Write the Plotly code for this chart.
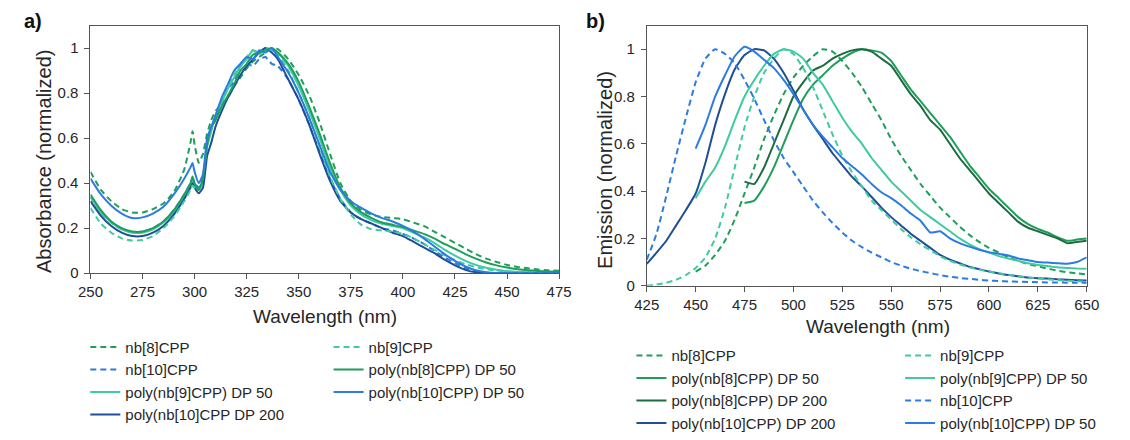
import plotly.graph_objects as go

W, H = 1130, 440

# ---------------- Panel a: absorbance ----------------
WL_ABS = [250, 255, 260, 265, 270, 275, 280, 285, 290, 295,
          298, 299, 300, 302, 304, 306, 308,
          310, 313, 316, 319, 322, 325, 328, 331, 334, 337,
          340, 345, 350, 355, 360, 365, 370, 375, 380, 385, 390, 395, 400, 405,
          410, 415, 420, 425, 430, 435, 440, 445, 450, 455, 460, 465, 470, 475]

ABS_NB8 = [0.45, 0.37, 0.32, 0.285, 0.27, 0.27, 0.285, 0.31, 0.36, 0.46,
           0.58, 0.63, 0.57, 0.49, 0.53, 0.62, 0.68,
           0.72, 0.75, 0.78, 0.83, 0.87, 0.91, 0.94, 0.96, 0.98, 1.0,
           0.995, 0.95, 0.88, 0.79, 0.67, 0.53, 0.40, 0.32, 0.28, 0.26, 0.25, 0.245, 0.24, 0.225,
           0.21, 0.185, 0.16, 0.135, 0.11, 0.085, 0.065, 0.05, 0.037, 0.028, 0.022, 0.017, 0.013, 0.011]
ABS_NB9 = [0.29, 0.22, 0.18, 0.155, 0.145, 0.148, 0.165, 0.2, 0.25, 0.32,
           0.37, 0.39, 0.38, 0.37, 0.43, 0.57, 0.64,
           0.7, 0.77, 0.83, 0.88, 0.93, 0.96, 0.99, 0.97, 1.0, 0.99,
           0.97, 0.9, 0.8, 0.69, 0.56, 0.43, 0.33, 0.26, 0.215, 0.195, 0.19, 0.185, 0.175, 0.155,
           0.13, 0.105, 0.08, 0.058, 0.04, 0.027, 0.018, 0.012, 0.008, 0.005, 0.004, 0.003, 0.002, 0.002]
ABS_NB10 = [0.34, 0.27, 0.225, 0.195, 0.182, 0.185, 0.2, 0.23, 0.28, 0.35,
            0.4, 0.42, 0.4, 0.38, 0.43, 0.57, 0.64,
            0.68, 0.76, 0.82, 0.85, 0.92, 0.93, 0.92, 0.95, 0.96, 0.93,
            0.92, 0.86, 0.77, 0.66, 0.54, 0.42, 0.33, 0.27, 0.24, 0.22, 0.2, 0.19, 0.175, 0.155,
            0.13, 0.1, 0.07, 0.045, 0.022, 0.008, 0.002, 0, 0, 0, 0, 0, 0, 0]
ABS_P8_50 = [0.35, 0.28, 0.23, 0.2, 0.185, 0.185, 0.2, 0.23, 0.28, 0.35,
             0.4, 0.43, 0.4, 0.37, 0.42, 0.57, 0.65,
             0.68, 0.74, 0.79, 0.84, 0.9, 0.93, 0.97, 0.98, 0.99, 1.0,
             0.98, 0.93, 0.85, 0.74, 0.62, 0.49, 0.38, 0.31, 0.27, 0.245, 0.225, 0.215, 0.205, 0.19,
             0.175, 0.155, 0.13, 0.108, 0.085, 0.065, 0.048, 0.035, 0.025, 0.018, 0.013, 0.01, 0.008, 0.007]
ABS_P9_50 = [0.34, 0.27, 0.225, 0.195, 0.18, 0.18, 0.195, 0.225, 0.27, 0.34,
             0.39, 0.41, 0.39, 0.37, 0.41, 0.56, 0.63,
             0.7, 0.76, 0.82, 0.87, 0.92, 0.95, 0.99, 0.98, 1.0, 0.99,
             0.98, 0.92, 0.83, 0.72, 0.6, 0.47, 0.37, 0.3, 0.26, 0.235, 0.22, 0.21, 0.2, 0.18,
             0.16, 0.135, 0.105, 0.078, 0.055, 0.037, 0.024, 0.015, 0.009, 0.006, 0.004, 0.003, 0.002, 0.002]
ABS_P10_50 = [0.42, 0.35, 0.3, 0.265, 0.245, 0.248, 0.265, 0.295, 0.35, 0.42,
              0.47, 0.49, 0.45, 0.40, 0.44, 0.6, 0.65,
              0.7, 0.78, 0.84, 0.9, 0.93, 0.96, 0.95, 0.99, 0.98, 1.0,
              0.96, 0.89, 0.8, 0.69, 0.57, 0.45, 0.37, 0.32, 0.29, 0.265, 0.245, 0.23, 0.21, 0.185,
              0.155, 0.12, 0.085, 0.055, 0.03, 0.013, 0.004, 0, 0, 0, 0, 0, 0, 0]
ABS_P10_200 = [0.32, 0.255, 0.21, 0.18, 0.165, 0.165, 0.18, 0.21, 0.26, 0.33,
               0.38, 0.40, 0.38, 0.355, 0.38, 0.52, 0.58,
               0.65, 0.72, 0.78, 0.83, 0.88, 0.92, 0.95, 0.98, 1.0, 0.98,
               0.95, 0.86, 0.77, 0.66, 0.53, 0.41, 0.32, 0.27, 0.24, 0.22, 0.2, 0.18, 0.165, 0.14,
               0.115, 0.09, 0.06, 0.035, 0.015, 0.004, 0, 0, 0, 0, 0, 0, 0, 0]

# ---------------- Panel b: emission ----------------
WL_EM = list(range(425, 651, 5))  # 425 ... 650

EM_NB8 = [0.06, 0.085, 0.13, 0.19, 0.28, 0.39, 0.5, 0.62, 0.72, 0.81,
          0.88, 0.93, 0.97, 1.0, 0.99, 0.95, 0.9, 0.84, 0.77, 0.7,
          0.62, 0.55, 0.49, 0.43, 0.38, 0.33, 0.29, 0.25, 0.215, 0.185,
          0.16, 0.14, 0.12, 0.105, 0.092, 0.082, 0.072, 0.064, 0.057, 0.052, 0.048]  # from 450
EM_NB9 = [0.0, 0.005, 0.012, 0.025, 0.045, 0.075, 0.12, 0.2, 0.33, 0.5,
          0.67, 0.8, 0.9, 0.96, 1.0, 0.98, 0.92, 0.84, 0.74, 0.64,
          0.55, 0.48, 0.42, 0.36, 0.32, 0.28, 0.24, 0.205, 0.175, 0.15,
          0.125, 0.105, 0.09, 0.078, 0.068, 0.06, 0.053, 0.046, 0.04, 0.035,
          0.031, 0.027, 0.024, 0.021, 0.019, 0.017]  # from 425
EM_NB10 = [0.11, 0.22, 0.38, 0.55, 0.71, 0.86, 0.96, 1.0, 0.98, 0.94,
           0.87, 0.79, 0.7, 0.615, 0.54, 0.48, 0.42, 0.36, 0.31, 0.265,
           0.225, 0.19, 0.163, 0.14, 0.12, 0.1, 0.085, 0.072, 0.062, 0.053,
           0.045, 0.038, 0.033, 0.029, 0.025, 0.022, 0.02, 0.018, 0.017, 0.016,
           0.015, 0.014, 0.014, 0.013, 0.013, 0.013]  # from 425
EM_P8_50 = [0.35, 0.36, 0.42, 0.5, 0.6, 0.7, 0.79, 0.85, 0.89, 0.93,
            0.96, 0.985, 1.0, 0.995, 0.985, 0.95, 0.89, 0.83, 0.78, 0.73,
            0.68, 0.63, 0.57, 0.51, 0.46, 0.41, 0.37, 0.33, 0.29, 0.26,
            0.24, 0.225, 0.205, 0.19, 0.195, 0.2]  # from 475
EM_P9_50 = [0.37, 0.44, 0.5, 0.59, 0.7, 0.8, 0.87, 0.93, 0.98, 1.0,
            0.99, 0.96, 0.9, 0.85, 0.78, 0.71, 0.65, 0.6, 0.54, 0.49,
            0.44, 0.4, 0.36, 0.32, 0.29, 0.26, 0.23, 0.2, 0.175, 0.155,
            0.14, 0.125, 0.115, 0.105, 0.095, 0.088, 0.083, 0.078, 0.075, 0.073, 0.072]  # from 450
EM_P8_200 = [0.44, 0.43, 0.5, 0.6, 0.7, 0.8, 0.86, 0.91, 0.93, 0.96,
             0.98, 0.995, 1.0, 0.99, 0.96, 0.93, 0.87, 0.81, 0.76, 0.7,
             0.66, 0.6, 0.54, 0.49, 0.44, 0.39, 0.35, 0.31, 0.27, 0.245,
             0.23, 0.215, 0.2, 0.18, 0.185, 0.19]  # from 475
EM_P10_200 = [0.092, 0.14, 0.19, 0.255, 0.32, 0.39, 0.52, 0.68, 0.81, 0.915,
              0.975, 1.0, 0.995, 0.96, 0.9, 0.825, 0.745, 0.68, 0.62, 0.56,
              0.51, 0.46, 0.42, 0.375, 0.33, 0.29, 0.255, 0.22, 0.19, 0.16,
              0.13, 0.11, 0.095, 0.08, 0.07, 0.06, 0.052, 0.045, 0.04, 0.035,
              0.032, 0.03, 0.027, 0.025, 0.023, 0.022]  # from 425
EM_P10_50 = [0.58, 0.68, 0.8, 0.89, 0.97, 1.01, 0.99, 0.955, 0.92, 0.87,
             0.81, 0.745, 0.68, 0.63, 0.585, 0.54, 0.505, 0.47, 0.43, 0.395,
             0.37, 0.34, 0.305, 0.275, 0.225, 0.23, 0.2, 0.18, 0.165, 0.152,
             0.142, 0.135, 0.128, 0.115, 0.108, 0.1, 0.098, 0.095, 0.093, 0.1, 0.12]  # from 450

Y_TICKS = [0, 0.2, 0.4, 0.6, 0.8, 1]
Y_TICK_TEXT = ["0", "0.2", "0.4", "0.6", "0.8", "1"]

# ---------------- styling ----------------
GREEN = "#1f9e5a"
TEAL = "#3fcaa0"
BLUE = "#2b7be0"
NAVY = "#1f4e96"
DKGREEN = "#1d6b41"
DASH = "6px,4px"
FONT = "Liberation Sans, Arial, sans-serif"
TXT = "#262626"


def px_x(p):
    return p / W


def px_y(p):
    return 1 - p / H


def tail(x, vals):
    return x[len(x) - len(vals):]


fig = go.Figure()


def add(x, y, name, color, dash, axis, legend):
    fig.add_trace(go.Scatter(
        x=tail(x, y), y=y, name=name, mode="lines",
        line=dict(color=color, width=2, dash=dash, shape="spline", smoothing=0.5),
        xaxis="x" if axis == 1 else "x2", yaxis="y" if axis == 1 else "y2",
        legend=legend, hoverinfo="skip"))


# panel a legend columns
add(WL_ABS, ABS_NB8, "nb[8]CPP", GREEN, DASH, 1, "legend")
add(WL_ABS, ABS_NB10, "nb[10]CPP", BLUE, DASH, 1, "legend")
add(WL_ABS, ABS_P9_50, "poly(nb[9]CPP) DP 50", TEAL, "solid", 1, "legend")
add(WL_ABS, ABS_P10_200, "poly(nb[10]CPP DP 200", NAVY, "solid", 1, "legend")
add(WL_ABS, ABS_NB9, "nb[9]CPP", TEAL, DASH, 1, "legend2")
add(WL_ABS, ABS_P8_50, "poly(nb[8]CPP) DP 50", GREEN, "solid", 1, "legend2")
add(WL_ABS, ABS_P10_50, "poly(nb[10]CPP) DP 50", BLUE, "solid", 1, "legend2")

# panel b legend columns
add(WL_EM, EM_NB8, "nb[8]CPP", GREEN, DASH, 2, "legend3")
add(WL_EM, EM_P8_50, "poly(nb[8]CPP) DP 50", GREEN, "solid", 2, "legend3")
add(WL_EM, EM_P8_200, "poly(nb[8]CPP) DP 200", DKGREEN, "solid", 2, "legend3")
add(WL_EM, EM_P10_200, "poly(nb[10]CPP) DP 200", NAVY, "solid", 2, "legend3")
add(WL_EM, EM_NB9, "nb[9]CPP", TEAL, DASH, 2, "legend4")
add(WL_EM, EM_P9_50, "poly(nb[9]CPP) DP 50", TEAL, "solid", 2, "legend4")
add(WL_EM, EM_NB10, "nb[10]CPP", BLUE, DASH, 2, "legend4")
add(WL_EM, EM_P10_50, "poly(nb[10]CPP) DP 50", BLUE, "solid", 2, "legend4")

axis_common = dict(showline=True, linecolor="#555555", linewidth=1, mirror=True,
                   ticks="outside", ticklen=5, tickcolor="#555555", showgrid=False,
                   zeroline=False, tickfont=dict(size=15, color=TXT, family=FONT))

fig.update_layout(
    width=W, height=H, margin=dict(l=0, r=0, t=0, b=0),
    paper_bgcolor="white", plot_bgcolor="white",
    font=dict(family=FONT, color=TXT, size=15),
    xaxis=dict(domain=[px_x(79.3), px_x(559)], range=[250, 475], dtick=25, tick0=250,
               anchor="y", **axis_common),
    yaxis=dict(domain=[px_y(278.3), px_y(26)], range=[0, 1.1], tickvals=Y_TICKS,
               ticktext=Y_TICK_TEXT, anchor="x", ticklabelstandoff=3, **axis_common),
    xaxis2=dict(domain=[px_x(648.7), px_x(1099)], range=[425, 650], dtick=25, tick0=425,
                anchor="y2", **axis_common),
    yaxis2=dict(domain=[px_y(291), px_y(26)], range=[0, 1.1], tickvals=Y_TICKS,
                ticktext=Y_TICK_TEXT, anchor="x2", ticklabelstandoff=3, **axis_common),
    showlegend=True,
)

leg_common = dict(orientation="v", xanchor="left", yanchor="top", bgcolor="rgba(0,0,0,0)",
                  borderwidth=0, tracegroupgap=0, itemwidth=30,
                  font=dict(size=15, color=TXT, family=FONT))
fig.update_layout(
    legend=dict(x=px_x(74), y=px_y(337), **leg_common),
    legend2=dict(x=px_x(323), y=px_y(337), **leg_common),
    legend3=dict(x=px_x(633), y=px_y(345.5), **leg_common),
    legend4=dict(x=px_x(908), y=px_y(345.5), **leg_common),
)

annos = [
    dict(text="Wavelength (nm)", x=px_x(319), y=px_y(322), size=19, angle=0),
    dict(text="Wavelength (nm)", x=px_x(885), y=px_y(333), size=19, angle=0),
    dict(text="Absorbance (normalized)", x=px_x(31.7), y=px_y(164), size=20, angle=-90),
    dict(text="Emission (normalized)", x=px_x(606), y=px_y(173), size=20, angle=-90),
]
for a in annos:
    fig.add_annotation(text=a["text"], x=a["x"], y=a["y"], xref="paper", yref="paper",
                       showarrow=False, textangle=a["angle"], xanchor="center", yanchor="middle",
                       font=dict(size=a["size"], color=TXT, family=FONT))

for lab, xp in [("a)", 9), ("b)", 584)]:
    fig.add_annotation(text="<b>%s</b>" % lab, x=px_x(xp), y=px_y(21), xref="paper", yref="paper",
                       showarrow=False, xanchor="left", yanchor="middle",
                       font=dict(size=20, color="#111111", family=FONT))

fig.write_html("out.html")
